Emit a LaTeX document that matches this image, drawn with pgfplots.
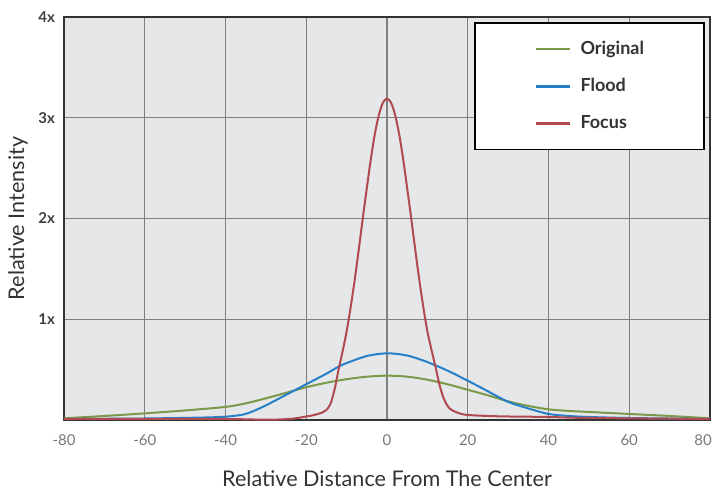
\documentclass[border=0pt]{standalone}
\usepackage{fontspec}
\setmainfont{Lato}
\usepackage{pgfplots}
\pgfplotsset{compat=1.18}

\definecolor{origgreen}{RGB}{122,154,74}
\definecolor{floodblue}{RGB}{38,128,200}
\definecolor{focusred}{RGB}{176,74,80}
\definecolor{plotbg}{RGB}{230,231,233}
\definecolor{gridgray}{RGB}{128,128,128}
\definecolor{ticktext}{RGB}{120,120,120}
\definecolor{labeltext}{RGB}{51,51,51}

\begin{document}
\begin{tikzpicture}
\begin{axis}[
    at={(0pt,0pt)}, anchor=south west,
    scale only axis,
    width=323pt, height=201.5pt,
    xmin=-80, xmax=80, ymin=0, ymax=4,
    axis background/.style={fill=plotbg},
    axis line style={draw=black!80, line width=1.2pt},
    xtick={-80,-60,...,80},
    xticklabels={-80,-60,-40,-20,0,20,40,60,\hspace*{-7pt}80},
    ytick={1,2,3,4},
    yticklabels={1x,2x,3x,4x},
    major tick length=0pt,
    grid=major,
    major grid style={draw=gridgray, line width=0.6pt},
    xticklabel style={font=\fontsize{7.5}{9}\selectfont, text=ticktext, yshift=-4pt},
    yticklabel style={font=\fontsize{7.5}{9}\selectfont\bfseries, text=black!75, xshift=-1pt},
    xlabel={Relative Distance From The Center},
    ylabel={Relative Intensity},
    label style={font=\fontsize{10.8}{12}\selectfont, text=labeltext},
    xlabel style={at={(axis description cs:0.5,-0.145)}, anchor=center},
    ylabel style={at={(axis description cs:-0.0712,0.5)}, anchor=center},
    legend style={at={(0.992,0.9876)}, anchor=north east,
        draw=black, line width=0.8pt, fill=white,
        inner xsep=30pt, inner ysep=9pt,
        nodes={inner sep=0pt},
        row sep=10.5pt, column sep=4.5pt,
        font=\fontsize{9}{11}\selectfont\bfseries, text=labeltext},
    legend cell align=left,
    legend image code/.code={\draw[line width=1.3pt] (0pt,0pt) -- (17pt,0pt);},
]
% Original
\addplot[origgreen, line width=1pt, smooth] coordinates {
    (-80,0.017) (-70,0.04) (-60,0.066) (-50,0.095) (-40,0.13) (-35,0.165)
    (-30,0.215) (-25,0.27) (-20,0.325) (-15,0.37) (-10,0.405) (-5,0.43)
    (0,0.44) (5,0.43) (10,0.40) (15,0.355) (20,0.30) (25,0.245) (30,0.185)
    (35,0.14) (40,0.106) (45,0.09) (50,0.08) (60,0.06) (70,0.04) (80,0.017)
};
% Flood
\addplot[floodblue, line width=1pt, smooth] coordinates {
    (-80,0.01) (-60,0.015) (-45,0.025) (-40,0.033) (-37,0.045) (-35,0.06)
    (-33,0.09) (-30,0.145) (-25,0.25) (-20,0.355) (-15,0.46) (-12,0.53)
    (-10,0.565) (-5,0.635) (0,0.662) (5,0.64) (10,0.575) (15,0.49) (20,0.39)
    (25,0.285) (30,0.18) (35,0.115) (40,0.06) (45,0.04) (50,0.03) (60,0.02)
    (80,0.01)
};
% Focus
\addplot[focusred, line width=1pt, smooth] coordinates {
    (-80,0.01) (-60,0.01) (-40,0.01) (-33,0.005) (-27,0.005) (-23,0.015)
    (-20,0.035) (-18,0.05) (-16,0.075) (-15,0.1) (-14,0.16) (-13,0.3)
    (-12,0.5) (-11,0.68) (-10,0.88) (-9,1.12) (-8,1.39) (-7,1.69) (-6,2.0)
    (-5,2.30) (-4,2.59) (-3,2.84) (-2,3.03) (-1,3.15) (0,3.19)
    (1,3.15) (2,3.03) (3,2.84) (4,2.59) (5,2.30) (6,2.0) (7,1.69) (8,1.39)
    (9,1.12) (10,0.88) (11,0.7) (12,0.53) (13,0.35) (14,0.22) (15,0.14)
    (16,0.1) (18,0.065) (20,0.05) (25,0.04) (30,0.035) (40,0.03) (50,0.02)
    (80,0.01)
};
\legend{Original,Flood,Focus}
\end{axis}
\pgfresetboundingbox
\path[use as bounding box] (-32pt,-34pt) rectangle (324.5pt,210pt);
\end{tikzpicture}
\end{document}
